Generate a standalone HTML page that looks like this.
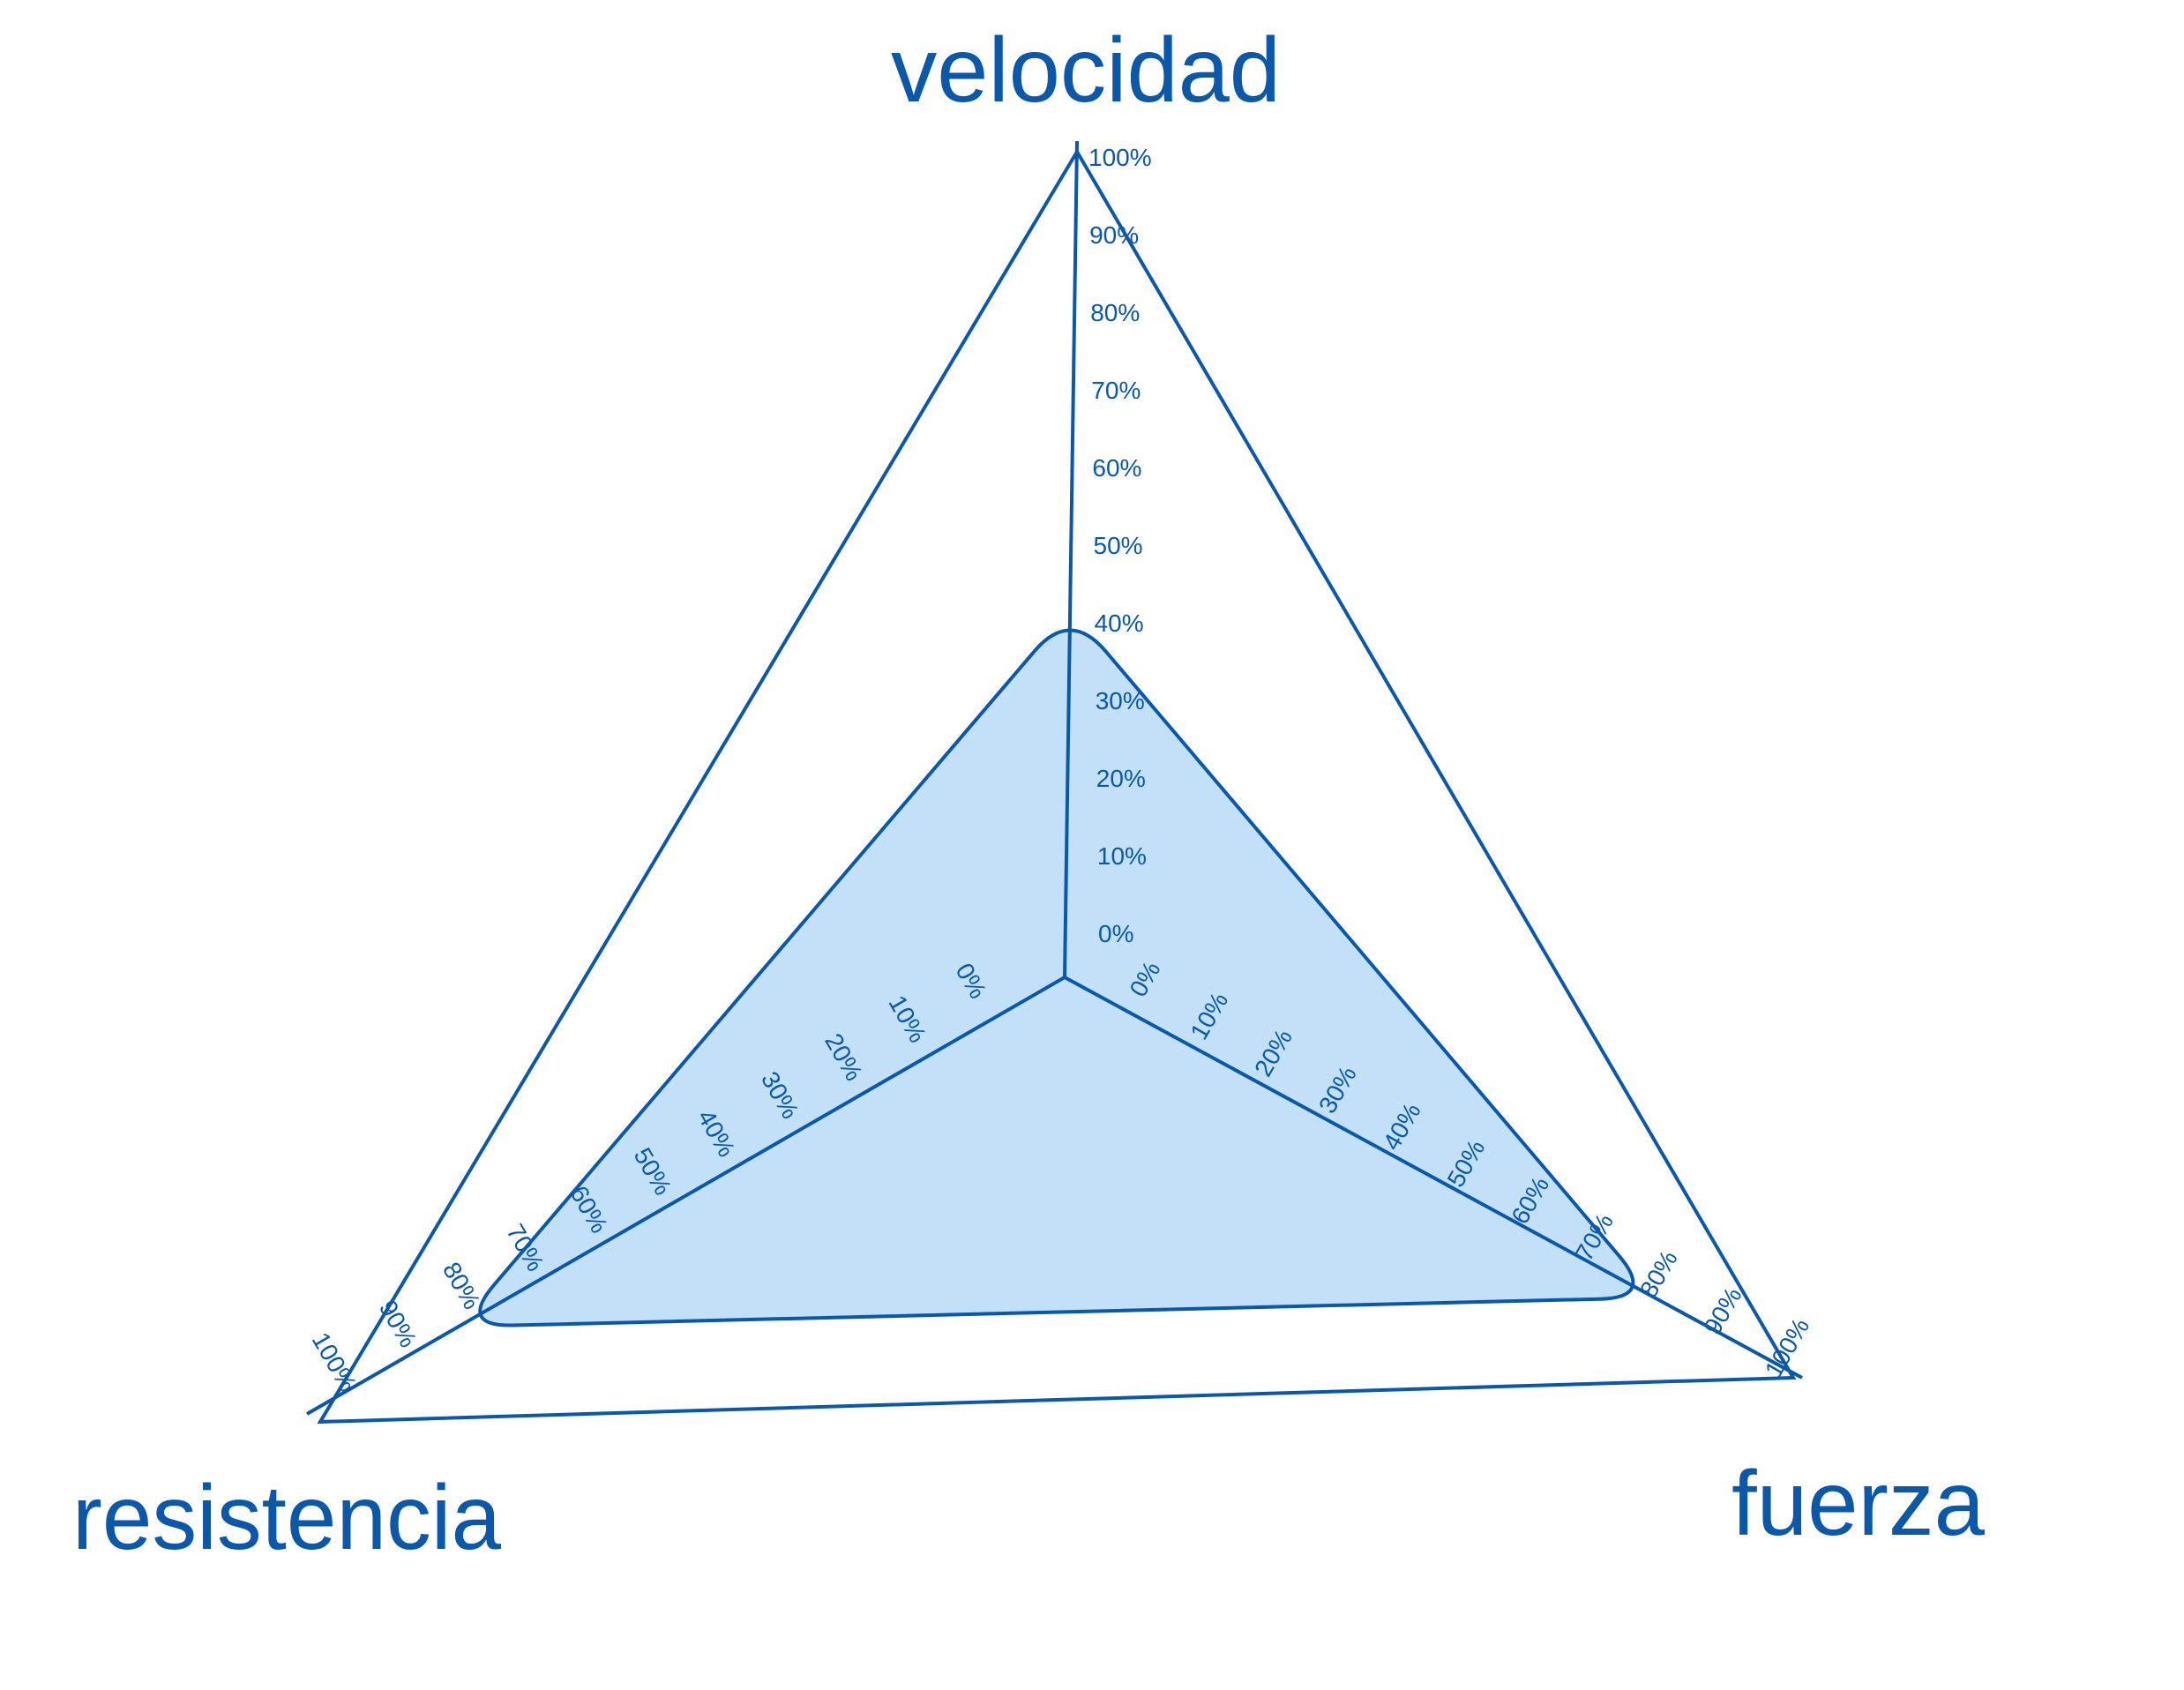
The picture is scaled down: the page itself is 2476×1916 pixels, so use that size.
<!DOCTYPE html>
<html><head><meta charset="utf-8"><style>
html,body{margin:0;padding:0;background:#fff;}
svg{display:block;}
text{font-family:"Liberation Sans",sans-serif;fill:#0b57a8;}
</style></head><body>
<svg id="chart" width="2476" height="1916" viewBox="0 0 2476 1916" xmlns="http://www.w3.org/2000/svg">
<g id="grid"></g>
<g id="series"></g>
<g id="axes"></g>
<g id="ticks"></g>
<g id="titles"></g>
</svg>
<script>
const categories = ["velocidad", "fuerza", "resistencia"];
const seriesValues = [44, 80, 80];
const tickLabels = ["0%","10%","20%","30%","40%","50%","60%","70%","80%","90%","100%"];
const tickValues = [0,10,20,30,40,50,60,70,80,90,100];

const NS = "http://www.w3.org/2000/svg";
const C = {x:1207, y:1108};
const axisEnd = {velocidad:{x:1221,y:160}, fuerza:{x:2043,y:1562}, resistencia:{x:348,y:1603}};
const gridPts = [[1221,172],[2033,1562],[363,1612]];
const col = "#0b57a8";
function mk(tag, attrs, parent){const e=document.createElementNS(NS,tag);for(const k in attrs)e.setAttribute(k,attrs[k]);parent.appendChild(e);return e;}
function pt(cat, v){const e=axisEnd[cat];return {x:C.x+(e.x-C.x)*v/100, y:C.y+(e.y-C.y)*v/100};}

const grid = document.getElementById('grid');
const tri = mk('polygon',{points:gridPts.map(p=>p.join(',')).join(' '),fill:'none',stroke:col,'stroke-width':4},grid);



const pts = categories.map((c,i)=>pt(c,seriesValues[i]));
const r = 62;
let d = "";
for(let i=0;i<pts.length;i++){
  const p=pts[i], a=pts[(i+pts.length-1)%pts.length], b=pts[(i+1)%pts.length];
  const la=Math.hypot(a.x-p.x,a.y-p.y), lb=Math.hypot(b.x-p.x,b.y-p.y);
  const s={x:p.x+(a.x-p.x)*r/la,y:p.y+(a.y-p.y)*r/la};
  const e={x:p.x+(b.x-p.x)*r/lb,y:p.y+(b.y-p.y)*r/lb};
  d += (i===0?"M":"L")+s.x+","+s.y+" Q"+p.x+","+p.y+" "+e.x+","+e.y+" ";
}
d+="Z";
const poly = mk('path',{d:d,fill:'#c2e0f8',stroke:col,'stroke-width':4,'stroke-linejoin':'round'},document.getElementById('series'));



const axes = document.getElementById('axes');
categories.forEach(c=>{
  const e=axisEnd[c];
  const l=mk('line',{x1:C.x,y1:C.y,x2:e.x,y2:e.y,stroke:col,'stroke-width':4},axes);
  
  
});

const ticks = document.getElementById('ticks');
const tickPos = {
  velocidad:{a:{x:1245,y:1068},b:{x:1234,y:188},rot:0,anchor:'start'},
  resistencia:{a:{x:1101,y:1112},b:{x:379,y:1544},rot:60,anchor:'middle'},
  fuerza:{a:{x:1298,y:1110},b:{x:2026,y:1528},rot:-60,anchor:'middle'}
};
categories.forEach(c=>{
  const t=tickPos[c];
  tickValues.forEach((v,i)=>{
    const x=t.a.x+(t.b.x-t.a.x)*v/100, y=t.a.y+(t.b.y-t.a.y)*v/100;
    const tx=mk('text',{x:x,y:y,'font-size':28,'text-anchor':t.anchor,'dominant-baseline':t.rot?'central':'auto',transform:t.rot?`rotate(${t.rot} ${x} ${y})`:''},ticks);
    tx.textContent=tickLabels[i];
    
    
  });
});

const titles = document.getElementById('titles');
const titlePos = {velocidad:{x:1010,y:115,w:442}, resistencia:{x:82,y:1756,w:486}, fuerza:{x:1963,y:1740,w:287}};
categories.forEach(c=>{
  const p=titlePos[c];
  const tx=mk('text',{x:p.x,y:p.y,'font-size':104,textLength:p.w,lengthAdjust:'spacingAndGlyphs'},titles);
  tx.textContent=c;
  
  
});
</script>
</body></html>
